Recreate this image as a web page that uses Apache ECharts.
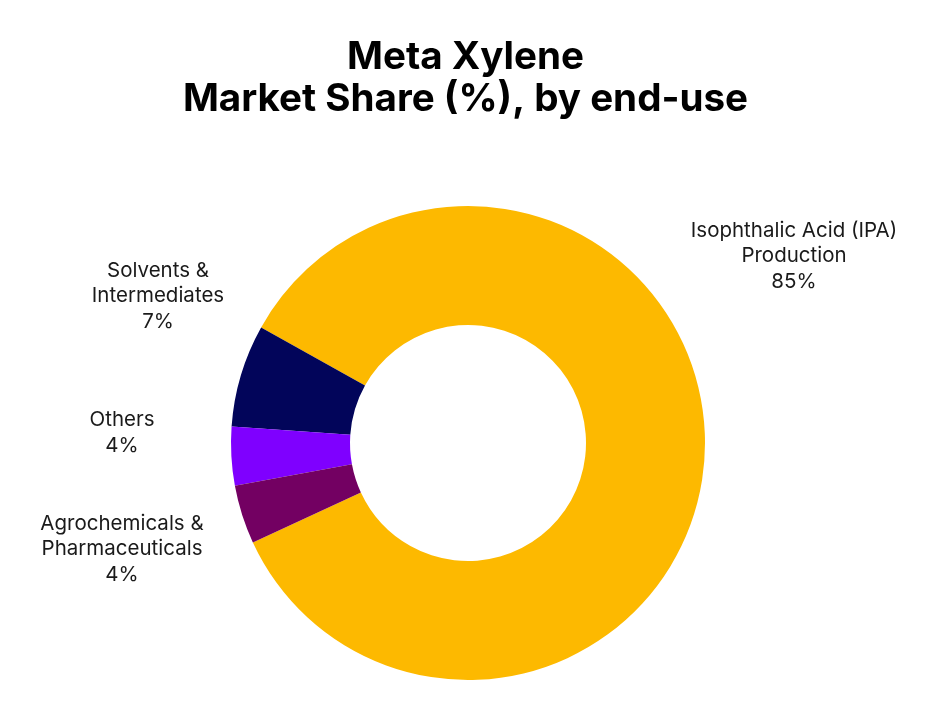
<!DOCTYPE html>
<html>
<head>
<meta charset="utf-8">
<script src="https://cdn.jsdelivr.net/npm/echarts@6/dist/echarts.min.js"></script>
<style>
html,body{margin:0;padding:0;background:#fff;}
#chart{width:931px;height:706px;}
</style>
</head>
<body>
<div id="chart"></div>
<script>
const categories = [
  "Isophthalic Acid (IPA)\nProduction",
  "Solvents &\nIntermediates",
  "Others",
  "Agrochemicals &\nPharmaceuticals"
];
const shares = [85, 7, 4, 4];
const sliceColors = ["#FDB900", "#02055A", "#7F00FF", "#730062"];

// label anchor placement (layout only)
const labelSpots = [[794, 256], [158, 296], [122, 433], [122, 549]];

const chart = echarts.init(document.getElementById('chart'), null, {renderer: 'canvas'});
chart.setOption({
  backgroundColor: '#ffffff',
  animation: false,
  title: {
    text: 'Meta Xylene\nMarket Share (%), by end-use',
    left: 'center',
    top: 31,
    textStyle: {
      fontFamily: 'Inter',
      fontWeight: 'bold',
      fontSize: 38.6,
      lineHeight: 42,
      color: '#000000'
    }
  },
  series: [{
    type: 'pie',
    center: [468, 443],
    radius: [118, 237],
    startAngle: 204.8,
    clockwise: false,
    silent: true,
    data: categories.map((c, i) => ({
      name: c,
      value: shares[i],
      itemStyle: {color: sliceColors[i]}
    })),
    label: {
      show: true,
      formatter: p => p.name + '\n' + p.value + '%',
      fontFamily: 'Inter',
      fontSize: 20.5,
      lineHeight: 25.5,
      color: '#1a1a1a',
      align: 'center',
      overflow: 'none',
      width: 300
    },
    labelLine: {show: false},
    labelLayout: p => ({
      x: labelSpots[p.dataIndex][0],
      y: labelSpots[p.dataIndex][1],
      align: 'center',
      verticalAlign: 'middle'
    })
  }]
});
</script>
</body>
</html>
